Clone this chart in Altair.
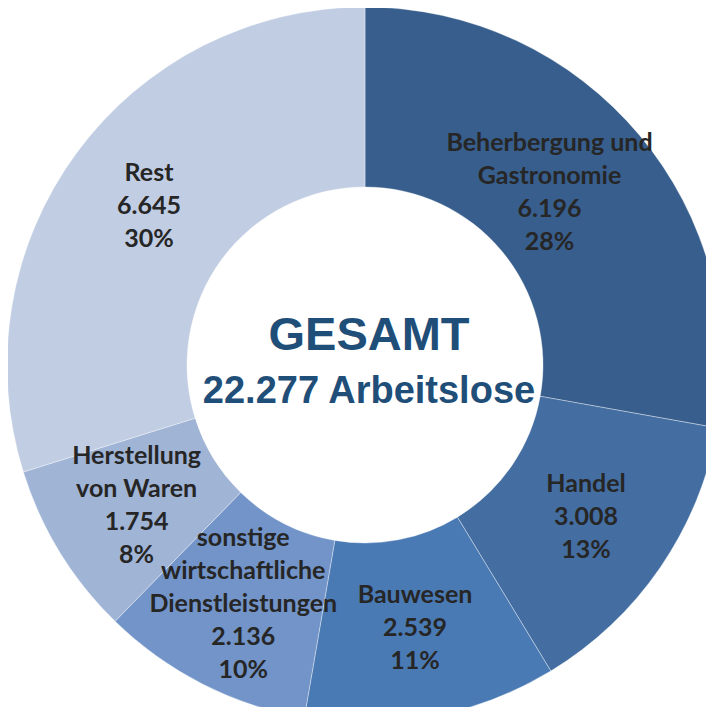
import altair as alt
import pandas as pd

# ---- data ----
categories = [
    "Beherbergung und\nGastronomie",
    "Handel",
    "Bauwesen",
    "sonstige\nwirtschaftliche\nDienstleistungen",
    "Herstellung\nvon Waren",
    "Rest",
]
values = [6196, 3008, 2539, 2136, 1754, 6645]
percents = [28, 13, 11, 10, 8, 30]
colors = ["#375E8C", "#446EA2", "#4A7AB4", "#7294C8", "#A0B4D6", "#C1CDE3"]
center_title = "GESAMT"
center_sub = "22.277 Arbeitslose"


def de(n):
    return f"{n:,}".replace(",", ".")


keys = [c.replace("\n", " ") for c in categories]
labels = [f"{c}\n{de(v)}\n{p}%" for c, v, p in zip(categories, values, percents)]
nlines = [l.count("\n") + 1 for l in labels]

LINE_H = 33
# label groups: (dx, number of lines) -> text column
groups = {}
for i, (l, n) in enumerate(zip(labels, nlines)):
    dx = -21 if i == 0 else 0
    groups.setdefault((dx, n), set()).add(i)

df = pd.DataFrame({
    "key": keys,
    "value": values,
    "order": list(range(len(values))),
})
group_cols = []
for gi, ((dx, n), idxs) in enumerate(sorted(groups.items())):
    col = f"lab{gi}"
    df[col] = [labels[i] if i in idxs else "" for i in range(len(labels))]
    group_cols.append((col, dx, -(n - 1) * LINE_H / 2))

CX, CY = 357, 357

base = alt.Chart(df).encode(
    theta=alt.Theta("value:Q", stack=True),
    order=alt.Order("order:Q"),
)

arcs = base.mark_arc(
    innerRadius=178, outerRadius=358,
    stroke="#ffffff", strokeWidth=0.6, strokeOpacity=0.6,
).encode(
    color=alt.Color("key:N", scale=alt.Scale(domain=keys, range=colors), legend=None),
    x=alt.value(CX), y=alt.value(CY),
)

text_style = dict(
    radius=268, font="Lato", fontWeight="bold", fontSize=25, lineHeight=LINE_H,
    lineBreak="\n", color="#262626", align="center", baseline="middle",
)

label_layers = [
    base.mark_text(dx=dx, dy=dy, **text_style).encode(
        text=f"{col}:N", x=alt.value(CX), y=alt.value(CY),
    )
    for col, dx, dy in group_cols
]

title_df = pd.DataFrame({"t": [center_title]})
sub_df = pd.DataFrame({"t": [center_sub]})

c_title = alt.Chart(title_df).mark_text(
    font="Liberation Sans", fontWeight="bold", fontSize=47, color="#1F4E79",
    align="center", baseline="alphabetic",
).encode(text="t:N", x=alt.value(361), y=alt.value(342))

c_sub = alt.Chart(sub_df).mark_text(
    font="Liberation Sans", fontWeight="bold", fontSize=38, color="#1F4E79",
    align="center", baseline="alphabetic",
).encode(text="t:N", x=alt.value(361), y=alt.value(395))

chart = alt.layer(arcs, *label_layers, c_title, c_sub).properties(
    width=698, height=699, padding=0, autosize="none", background="white",
).configure_view(stroke=None)

chart.save("out.html", embed_options={"renderer": "svg", "actions": False})
